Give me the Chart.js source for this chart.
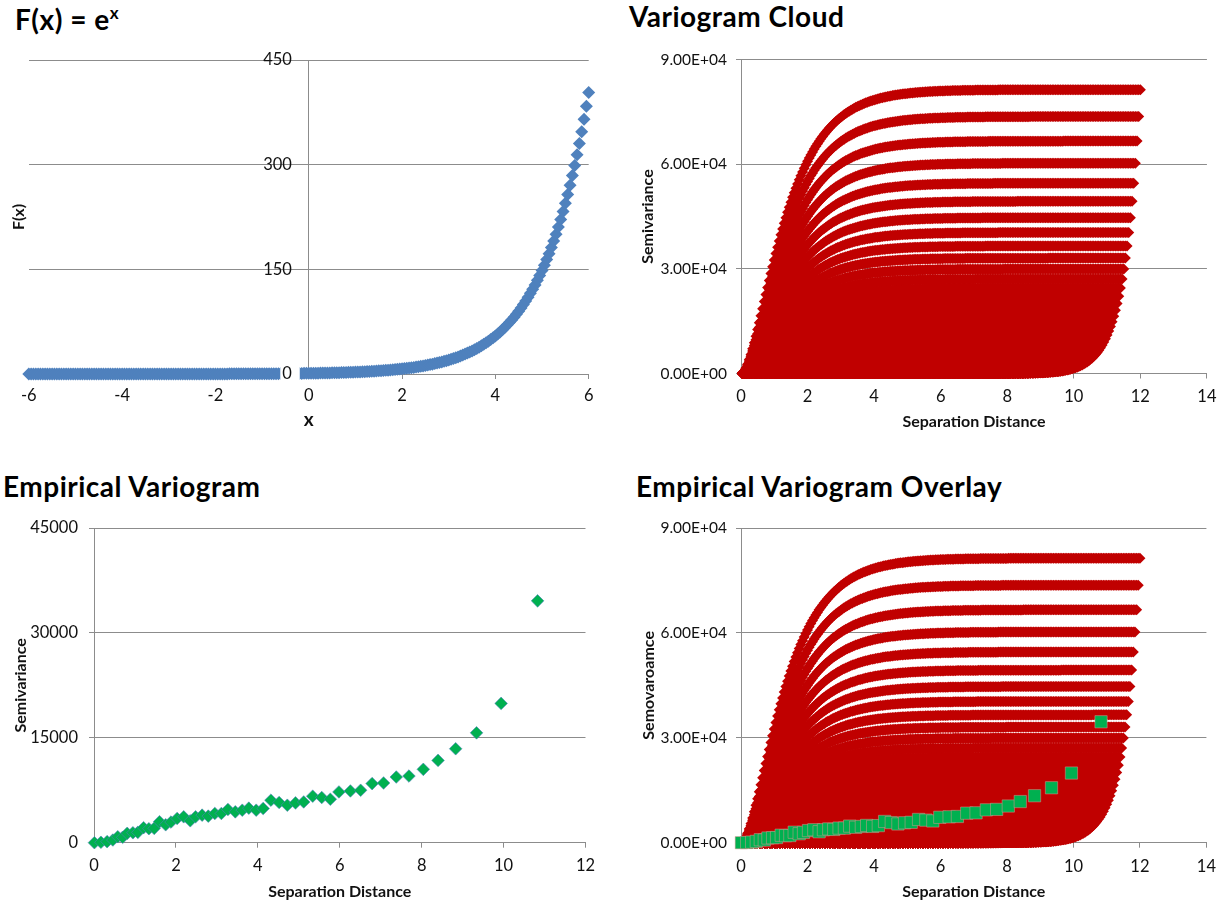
<!DOCTYPE html>
<html>
<head>
<meta charset="utf-8">
<title>Variogram study of F(x) = e^x</title>
<script src="https://cdn.jsdelivr.net/npm/chart.js"></script>
<style>
  html, body { margin: 0; padding: 0; background: #fff; }
  body { width: 1225px; height: 903px; position: relative; overflow: hidden; font-family: Lato, "Open Sans", sans-serif; }
  canvas { position: absolute; }
  .ttl { position: absolute; font-weight: 700; font-size: 28px; letter-spacing: 0.5px; line-height: 32px; color: #000; white-space: nowrap; }
  .ttl sup { font-size: 17px; vertical-align: 0; position: relative; top: -11px; }
</style>
</head>
<body>
<div class="ttl" style="left:15px;top:3px">F(x) = e<sup>x</sup></div>
<div class="ttl" style="left:629px;top:0px">Variogram Cloud</div>
<div class="ttl" style="left:3px;top:470px">Empirical Variogram</div>
<div class="ttl" style="left:636px;top:470px">Empirical Variogram Overlay</div>

<canvas id="cFunc"  width="612" height="400" style="left:0;top:40px"></canvas>
<canvas id="cCloud" width="613" height="400" style="left:612px;top:40px"></canvas>
<canvas id="cEmp"   width="612" height="398" style="left:0;top:505px"></canvas>
<canvas id="cOver"  width="613" height="398" style="left:612px;top:505px"></canvas>

<script>
// ---- sample of F(x) = e^x on [-6, 6], step 0.05 ----
const xSample = [
  -6,-5.95,-5.9,-5.85,-5.8,-5.75,-5.7,-5.65,-5.6,-5.55,-5.5,-5.45,-5.4,-5.35,-5.3,-5.25,-5.2,-5.15,-5.1,-5.05,
  -5,-4.95,-4.9,-4.85,-4.8,-4.75,-4.7,-4.65,-4.6,-4.55,-4.5,-4.45,-4.4,-4.35,-4.3,-4.25,-4.2,-4.15,-4.1,-4.05,
  -4,-3.95,-3.9,-3.85,-3.8,-3.75,-3.7,-3.65,-3.6,-3.55,-3.5,-3.45,-3.4,-3.35,-3.3,-3.25,-3.2,-3.15,-3.1,-3.05,
  -3,-2.95,-2.9,-2.85,-2.8,-2.75,-2.7,-2.65,-2.6,-2.55,-2.5,-2.45,-2.4,-2.35,-2.3,-2.25,-2.2,-2.15,-2.1,-2.05,
  -2,-1.95,-1.9,-1.85,-1.8,-1.75,-1.7,-1.65,-1.6,-1.55,-1.5,-1.45,-1.4,-1.35,-1.3,-1.25,-1.2,-1.15,-1.1,-1.05,
  -1,-0.95,-0.9,-0.85,-0.8,-0.75,-0.7,-0.65,-0.6,-0.55,-0.5,-0.45,-0.4,-0.35,-0.3,-0.25,-0.2,-0.15,-0.1,-0.05,
  0,0.05,0.1,0.15,0.2,0.25,0.3,0.35,0.4,0.45,0.5,0.55,0.6,0.65,0.7,0.75,0.8,0.85,0.9,0.95,
  1,1.05,1.1,1.15,1.2,1.25,1.3,1.35,1.4,1.45,1.5,1.55,1.6,1.65,1.7,1.75,1.8,1.85,1.9,1.95,
  2,2.05,2.1,2.15,2.2,2.25,2.3,2.35,2.4,2.45,2.5,2.55,2.6,2.65,2.7,2.75,2.8,2.85,2.9,2.95,
  3,3.05,3.1,3.15,3.2,3.25,3.3,3.35,3.4,3.45,3.5,3.55,3.6,3.65,3.7,3.75,3.8,3.85,3.9,3.95,
  4,4.05,4.1,4.15,4.2,4.25,4.3,4.35,4.4,4.45,4.5,4.55,4.6,4.65,4.7,4.75,4.8,4.85,4.9,4.95,
  5,5.05,5.1,5.15,5.2,5.25,5.3,5.35,5.4,5.45,5.5,5.55,5.6,5.65,5.7,5.75,5.8,5.85,5.9,5.95,
  6
];
const fSample = [
  0.00248,0.00261,0.00274,0.00288,0.00303,0.00318,0.00335,0.00352,0.0037,0.00389,0.00409,0.0043,0.00452,0.00475,0.00499,0.00525,0.00552,0.0058,0.0061,0.00641,
  0.00674,0.00708,0.00745,0.00783,0.00823,0.00865,0.0091,0.00956,0.01005,0.01057,0.01111,0.01168,0.01228,0.01291,0.01357,0.01426,0.015,0.01576,0.01657,0.01742,
  0.01832,0.01925,0.02024,0.02128,0.02237,0.02352,0.02472,0.02599,0.02732,0.02872,0.0302,0.03175,0.03337,0.03508,0.03688,0.03877,0.04076,0.04285,0.04505,0.04736,
  0.04979,0.05234,0.05502,0.05784,0.06081,0.06393,0.06721,0.07065,0.07427,0.07808,0.08208,0.08629,0.09072,0.09537,0.1003,0.1054,0.1108,0.1165,0.1225,0.1287,
  0.1353,0.1423,0.1496,0.1572,0.1653,0.1738,0.1827,0.192,0.2019,0.2122,0.2231,0.2346,0.2466,0.2592,0.2725,0.2865,0.3012,0.3166,0.3329,0.3499,
  0.3679,0.3867,0.4066,0.4274,0.4493,0.4724,0.4966,0.522,0.5488,0.5769,0.6065,0.6376,0.6703,0.7047,0.7408,0.7788,0.8187,0.8607,0.9048,0.9512,
  1,1.051,1.105,1.162,1.221,1.284,1.35,1.419,1.492,1.568,1.649,1.733,1.822,1.916,2.014,2.117,2.226,2.34,2.46,2.586,
  2.718,2.858,3.004,3.158,3.32,3.49,3.669,3.857,4.055,4.263,4.482,4.711,4.953,5.207,5.474,5.755,6.05,6.36,6.686,7.029,
  7.389,7.768,8.166,8.585,9.025,9.488,9.974,10.49,11.02,11.59,12.18,12.81,13.46,14.15,14.88,15.64,16.44,17.29,18.17,19.11,
  20.09,21.12,22.2,23.34,24.53,25.79,27.11,28.5,29.96,31.5,33.12,34.81,36.6,38.47,40.45,42.52,44.7,46.99,49.4,51.94,
  54.6,57.4,60.34,63.43,66.69,70.11,73.7,77.48,81.45,85.63,90.02,94.63,99.48,104.6,109.9,115.6,121.5,127.7,134.3,141.2,
  148.4,156,164,172.4,181.3,190.6,200.3,210.6,221.4,232.8,244.7,257.2,270.4,284.3,298.9,314.2,330.3,347.2,365,383.8,
  403.4
];

// ---- binned (empirical) semivariance ----
const empLag = [0.01,0.17,0.32,0.46,0.58,0.70,0.81,0.95,1.07,1.21,1.34,1.47,1.60,1.75,1.88,2.03,2.19,2.35,2.48,2.64,
  2.79,2.95,3.11,3.27,3.45,3.62,3.78,3.96,4.13,4.32,4.52,4.72,4.92,5.12,5.34,5.56,5.77,5.98,6.26,6.51,
  6.79,7.07,7.38,7.69,8.04,8.40,8.83,9.34,9.94,10.83];
const empGamma = [0,60,150,380,850,770,1340,1420,1480,2140,2000,2050,3000,2560,2950,3470,3700,3130,3700,3940,
  3800,4180,4180,4750,4410,4650,4940,4650,4890,6080,5750,5360,5690,5830,6650,6460,6220,7260,7400,7500,
  8450,8540,9390,9530,10490,11770,13430,15710,19920,34580];

// ---- axis tick values ----
const funcTicksX  = [-6,-4,-2,0,2,4,6];
const funcTicksY  = [0,150,300,450];
const cloudTicksX = [0,2,4,6,8,10,12,14];
const cloudTicksY = [0,30000,60000,90000];
const empTicksX   = [0,2,4,6,8,10,12];
const empTicksY   = [0,15000,30000,45000];

// ---- variogram cloud: half squared difference for every pair of samples ----
const cloudPoints = [];
for (let i = 0; i < xSample.length; i++) {
  for (let j = i + 1; j < xSample.length; j++) {
    const d = fSample[j] - fSample[i];
    cloudPoints.push({ x: xSample[j] - xSample[i], y: 0.5 * d * d });
  }
}
const funcPoints = xSample.map((x, i) => ({ x, y: fSample[i] }));
const empPoints = empLag.map((x, i) => ({ x, y: empGamma[i] }));

// ---- styling ----
const BLUE = '#4F81BD', RED = '#C00000', GREEN = '#00B050';
const GRID = '#8c8c8c', TXT = '#111';
const INT_SIZE = 16.5, SCI_SIZE = 15.5, AXIS_TITLE = 16;
Chart.defaults.font.family = "Lato, 'Open Sans', sans-serif";
Chart.defaults.color = TXT;

const fixWidth  = w => s => { s.width = w; };
const fixHeight = h => s => { s.height = h; };
const useTicks  = arr => s => { s.ticks = arr.map(v => ({ value: v })); };
const sci = v => {
  if (v === 0) return '0.00E+00';
  const e = Math.floor(Math.log10(v));
  return (v / Math.pow(10, e)).toFixed(2) + 'E+' + String(e).padStart(2, '0');
};
const common = {
  responsive: false, animation: false, events: [],
  plugins: { legend: { display: false }, tooltip: { enabled: false } }
};
const boldTitle = (text, pad, size) => ({ display: true, text, color: TXT,
  font: { size: size || AXIS_TITLE, weight: 'bold' }, padding: pad });

function xAxis(min, max, ticks, height, labelPad, fontSize, title, titlePad, titleSize) {
  return {
    type: 'linear', position: 'bottom', min, max,
    afterBuildTicks: useTicks(ticks), afterFit: fixHeight(height),
    grid: { display: true, drawOnChartArea: false, drawTicks: true, tickLength: 5, color: GRID },
    border: { display: true, color: GRID },
    ticks: { padding: labelPad, color: TXT, font: { size: fontSize }, callback: v => String(v) },
    title: boldTitle(title, { top: 0, bottom: titlePad }, titleSize)
  };
}
function yAxis(max, ticks, width, labelPad, fontSize, fmt, title, titlePad) {
  return {
    type: 'linear', position: 'left', min: 0, max,
    afterBuildTicks: useTicks(ticks), afterFit: fixWidth(width),
    grid: { color: GRID, drawTicks: true, tickLength: 5 },
    border: { display: true, color: GRID },
    ticks: { padding: labelPad, color: TXT, font: { size: fontSize }, callback: fmt },
    title: boldTitle(title, { top: titlePad, bottom: 0 })
  };
}

// ---- F(x) = e^x ----
new Chart(document.getElementById('cFunc'), {
  type: 'scatter',
  data: { datasets: [{ data: funcPoints, xAxisID: 'x', yAxisID: 'y', pointStyle: 'rectRot', pointRadius: 6.5,
    backgroundColor: BLUE, borderWidth: 0, clip: false }] },
  options: Object.assign({}, common, {
    layout: { padding: { left: 0, top: 20, right: 23.3, bottom: 0 } },
    scales: {
      x: xAxis(-6, 6, funcTicksX, 66, 7, INT_SIZE, 'x', 9, 19),
      y: {
        type: 'linear', position: 'left', min: 0, max: 450,
        afterBuildTicks: useTicks(funcTicksY), afterFit: fixWidth(28.8),
        grid: { color: GRID, drawTicks: false }, border: { display: false },
        ticks: { display: false },
        title: boldTitle('F(x)', { top: 9.3, bottom: 0 })
      },
      // value axis drawn through x = 0
      y0: {
        type: 'linear', axis: 'y', position: { x: 0 }, min: 0, max: 450,
        afterBuildTicks: useTicks(funcTicksY),
        grid: { display: false, drawTicks: false }, border: { display: true, color: GRID },
        ticks: {
          z: 1, color: TXT, font: { size: INT_SIZE },
          callback: v => String(v) + '    ',
          showLabelBackdrop: c => c.tick && c.tick.value === 0,
          backdropColor: '#fff', backdropPadding: { left: 2, right: -9, top: 1, bottom: 1 }
        }
      }
    }
  })
});

// ---- variogram cloud ----
new Chart(document.getElementById('cCloud'), {
  type: 'scatter',
  data: { datasets: [{ data: cloudPoints, pointStyle: 'rectRot', pointRadius: 5.5,
    backgroundColor: RED, borderWidth: 0, clip: false }] },
  options: Object.assign({}, common, {
    layout: { padding: { left: 0, top: 19.5, right: 16, bottom: 0 } },
    scales: {
      x: xAxis(0, 14, cloudTicksX, 66.5, 8.5, INT_SIZE, 'Separation Distance', 9),
      y: yAxis(90000, cloudTicksY, 129, 9, SCI_SIZE, sci, 'Semivariance', 26)
    }
  })
});

// ---- empirical variogram ----
new Chart(document.getElementById('cEmp'), {
  type: 'scatter',
  data: { datasets: [{ data: empPoints, pointStyle: 'rectRot', pointRadius: 6.3,
    backgroundColor: GREEN, borderColor: 'rgba(79,129,189,0.75)', borderWidth: 0.8, clip: false }] },
  options: Object.assign({}, common, {
    layout: { padding: { left: 0, top: 23, right: 26.5, bottom: 0 } },
    scales: {
      x: xAxis(0, 12, empTicksX, 60.3, 8.5, INT_SIZE, 'Separation Distance', 2),
      y: yAxis(45000, empTicksY, 94, 11, INT_SIZE, v => String(v), 'Semivariance', 11)
    }
  })
});

// ---- empirical variogram over the cloud (first dataset is drawn on top) ----
new Chart(document.getElementById('cOver'), {
  type: 'scatter',
  data: { datasets: [
    { data: empPoints, order: 0, pointStyle: 'rect', pointRadius: 8.7, backgroundColor: GREEN,
      borderColor: 'rgba(230,150,150,0.6)', borderWidth: 0.8, clip: false },
    { data: cloudPoints, order: 1, pointStyle: 'rectRot', pointRadius: 5.5, backgroundColor: RED, borderWidth: 0, clip: false }
  ] },
  options: Object.assign({}, common, {
    layout: { padding: { left: 0, top: 23, right: 16, bottom: 0 } },
    scales: {
      x: xAxis(0, 14, cloudTicksX, 60.3, 9, INT_SIZE, 'Separation Distance', 2),
      y: yAxis(90000, cloudTicksY, 129, 9, SCI_SIZE, sci, 'Semovaroamce', 27)
    }
  })
});
</script>
</body>
</html>
